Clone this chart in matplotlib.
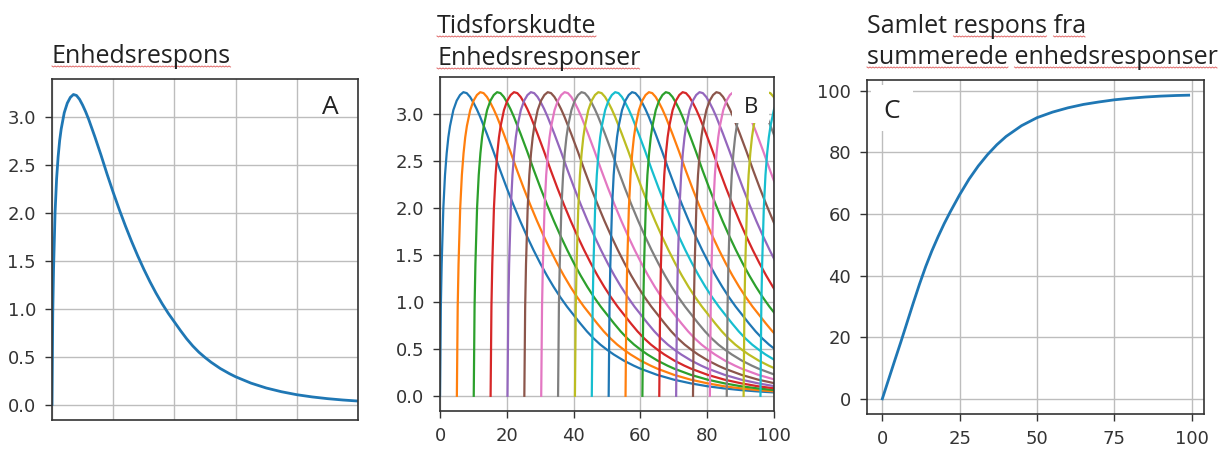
import matplotlib
matplotlib.use("Agg")
import matplotlib.pyplot as plt
from matplotlib.patches import Rectangle
from matplotlib.lines import Line2D

# unit response
t_unit = [0, 0.25, 0.5, 1, 1.5, 2, 2.5, 3, 4, 5, 6, 7, 8, 9, 10, 11, 12, 14, 16, 18,
          20, 22, 24, 26, 28, 30, 32, 34, 36, 38, 40, 42, 44, 46, 48, 50, 52, 55, 58,
          60, 65, 70, 75, 80, 85, 90, 95, 100]
h_unit = [0, 0.95, 1.4, 2.0, 2.35, 2.58, 2.75, 2.87, 3.04, 3.14, 3.2, 3.23, 3.22, 3.18,
          3.12, 3.05, 2.97, 2.79, 2.6, 2.4, 2.21, 2.03, 1.86, 1.7, 1.55, 1.41, 1.28,
          1.16, 1.05, 0.95, 0.86, 0.77, 0.685, 0.61, 0.545, 0.49, 0.44, 0.375, 0.321,
          0.289, 0.223, 0.172, 0.133, 0.102, 0.079, 0.061, 0.047, 0.036]

# start times of the shifted responses in panel B
shifts = [0, 5.05, 10.1, 15.15, 20.2, 25.25, 30.3, 35.35, 40.4, 45.45, 50.5, 55.55,
          60.6, 65.65, 70.7, 75.75, 80.8, 85.85, 90.9, 95.95]

# summed response, panel C
x_sum = [0, 2, 4, 6, 8, 10, 12, 14, 16, 18, 20, 22, 25, 28, 31, 34, 37, 40, 45, 50,
         55, 60, 65, 70, 75, 80, 85, 90, 95, 99]
y_sum = [0, 6.2, 12.4, 18.5, 24.8, 31.1, 37.2, 42.9, 48.0, 52.6, 56.9, 60.8, 66.3,
         71.3, 75.6, 79.3, 82.5, 85.2, 88.7, 91.3, 93.1, 94.5, 95.6, 96.4, 97.1, 97.6,
         98.0, 98.3, 98.5, 98.6]

# title lines: (x px, baseline px, text, underlined words)
titles = [
    (52, 63, "Enhedsrespons", ["Enhedsrespons"]),
    (437, 33, "Tidsforskudte", ["Tidsforskudte"]),
    (437, 65, "Enhedsresponser", ["Enhedsresponser"]),
    (867, 33, "Samlet respons fra", ["respons", "fra"]),
    (867, 64, "summerede enhedsresponser", ["summerede", "enhedsresponser"]),
]

W, H = 1231, 449
fig = plt.figure(figsize=(W / 100, H / 100), dpi=100)

def px_axes(left, top, right, bottom):
    return fig.add_axes([left / W, 1 - bottom / H, (right - left) / W, (bottom - top) / H])

def style(ax, size):
    ax.grid(True, color="#bdbdbd", linewidth=1.0)
    ax.set_axisbelow(True)
    for s in ax.spines.values():
        s.set_color("#333333")
        s.set_linewidth(1.2)
    ax.tick_params(colors="#333333", labelcolor="#333333", labelsize=size,
                   width=1.0, length=5, pad=6.5)

colors = plt.rcParams["axes.prop_cycle"].by_key()["color"]

# A
axA = px_axes(52, 79, 358, 420)
axA.plot(t_unit, h_unit, color=colors[0], linewidth=2.0)
axA.set_xlim(0, 100)
axA.set_xticks([0, 20, 40, 60, 80, 100])
axA.set_xticklabels([])
axA.set_yticks([0, 0.5, 1.0, 1.5, 2.0, 2.5, 3.0])
style(axA, 13)
axA.tick_params(axis="x", length=0)

# B
axB = px_axes(440, 77, 774, 411)
for i, s in enumerate(shifts):
    axB.plot([t + s for t in t_unit], h_unit, color=colors[i % 10], linewidth=1.6)
axB.set_xlim(0, 100)
axB.set_xticks([0, 20, 40, 60, 80, 100])
axB.set_yticks([0, 0.5, 1.0, 1.5, 2.0, 2.5, 3.0])
style(axB, 13)

# C
axC = px_axes(867, 80, 1204, 414)
axC.plot(x_sum, y_sum, color=colors[0], linewidth=2.0)
axC.set_xticks([0, 25, 50, 75, 100])
axC.set_yticks([0, 20, 40, 60, 80, 100])
style(axC, 13)

tfont = dict(family=["Open Sans", "DejaVu Sans"], color="#222222")

def ftext(x, y, s, size, **kw):
    return fig.text(x / W, 1 - y / H, s, fontsize=size, va="baseline", **tfont, **kw)

renderer = fig.canvas.get_renderer()

def text_width(s, size):
    tmp = ftext(0, 0, s, size)
    w = tmp.get_window_extent(renderer).width
    tmp.remove()
    return w

# spell-check squiggles like in the Word screenshot
for (x, y, line, words) in titles:
    ftext(x, y, line, 18)
    for w in words:
        end = line.index(w) + len(w)
        x1 = x + text_width(line[:end], 18)
        x0 = x1 - text_width(w, 18)
        xs, ys = [], []
        k = 0
        px = x0
        while px <= x1:
            xs.append(px / W)
            ys.append(1 - (y + 3 + (1 if k % 2 else 0)) / H)
            px += 1.5
            k += 1
        fig.add_artist(Line2D(xs, ys, color="#e06a6a", linewidth=0.7,
                              transform=fig.transFigure))

# white boxes behind the panel letters
for (l, t, r, b) in [(732, 88, 769, 123), (871, 85, 913, 131)]:
    fig.add_artist(Rectangle((l / W, 1 - b / H), (r - l) / W, (b - t) / H,
                             transform=fig.transFigure, facecolor="white",
                             edgecolor="none", zorder=5))

for (x, y, s, size) in [(330, 114, "A", 19), (751, 113, "B", 16), (892, 118, "C", 19)]:
    t = ftext(x, y, s, size, ha="center")
    t.set_zorder(6)

fig.savefig("out.png", dpi=100)
